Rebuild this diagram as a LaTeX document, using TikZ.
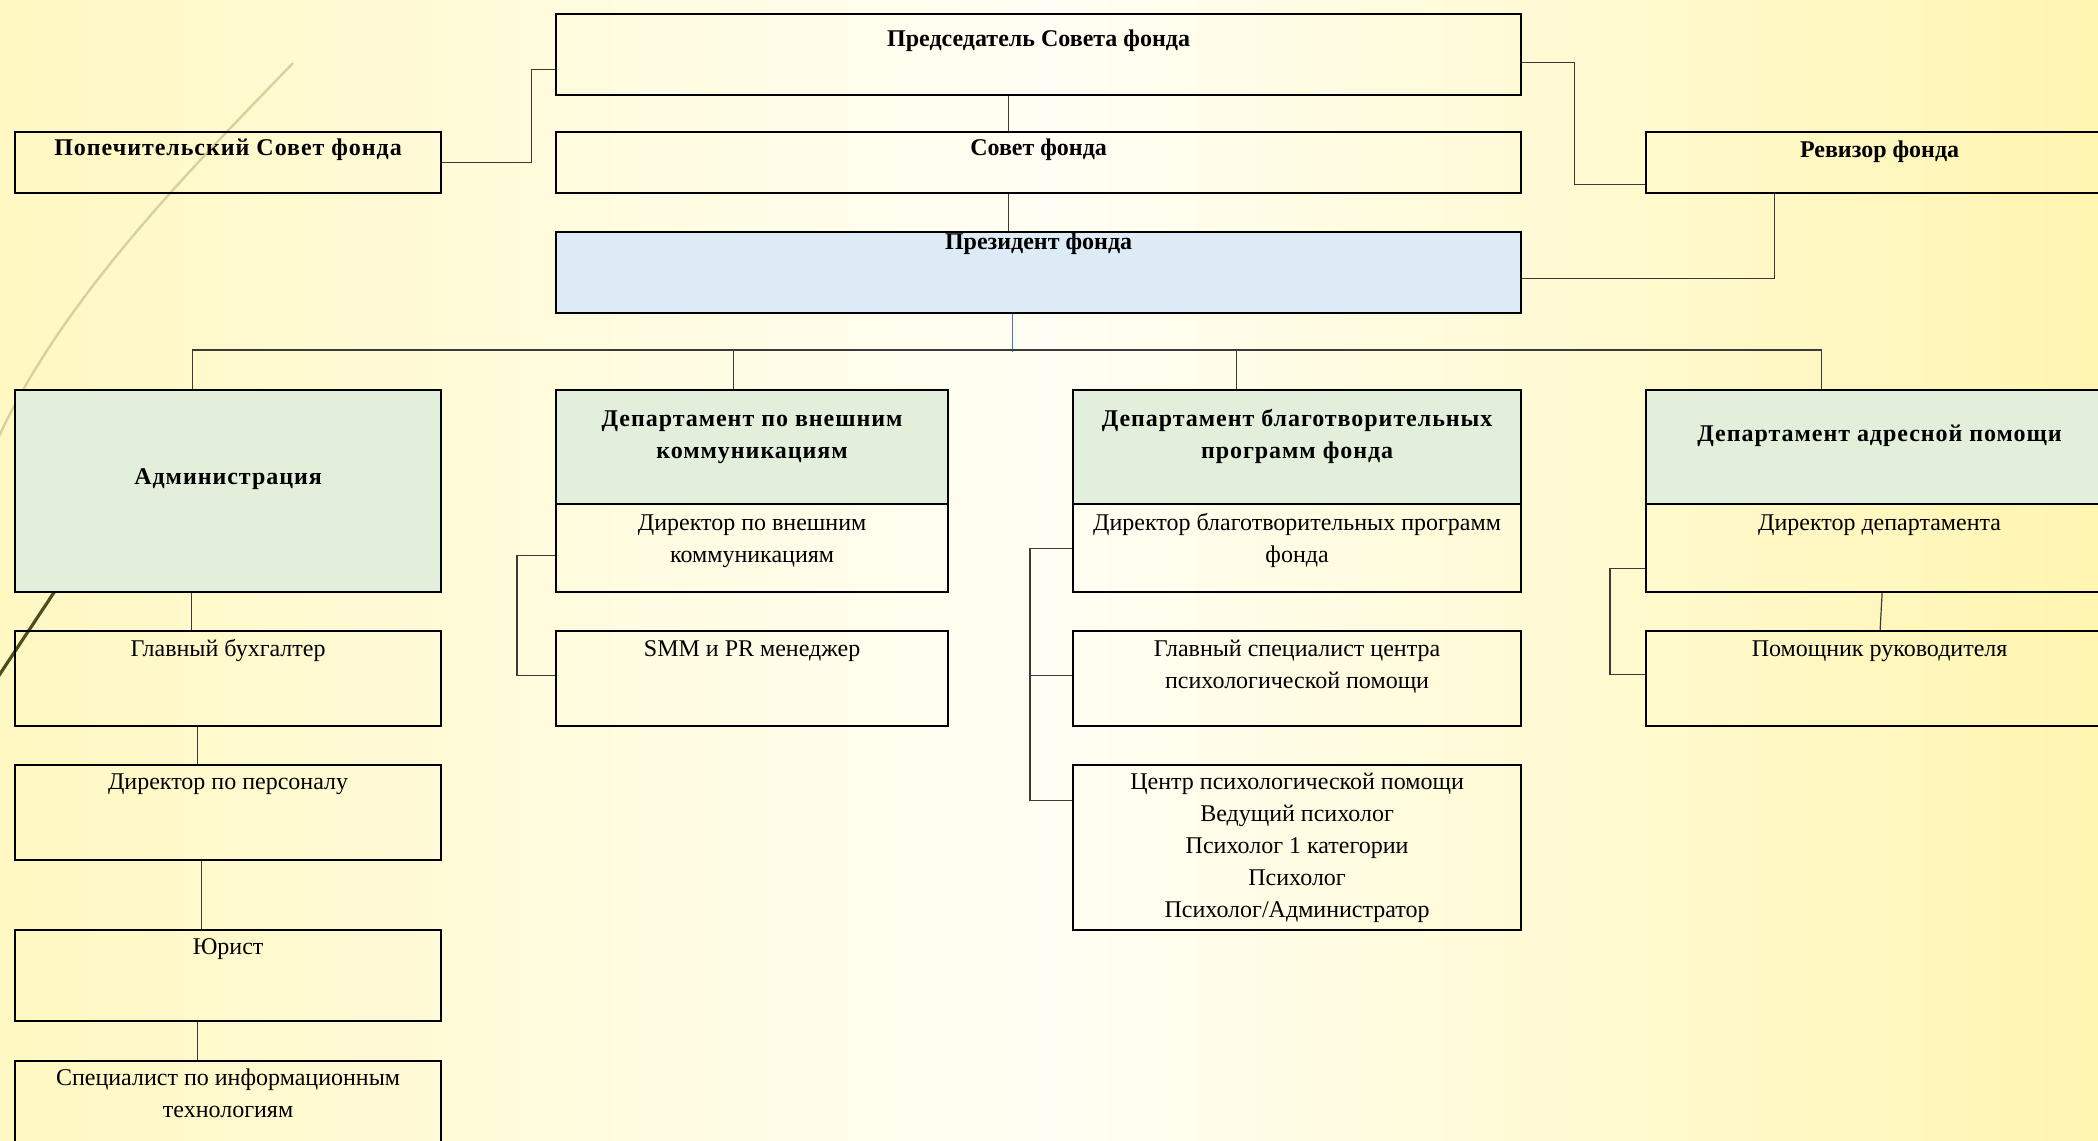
\documentclass[tikz,border=0pt]{standalone}
\usepackage{fontspec}
\setmainfont{Liberation Serif}
\newfontfamily\widefont[LetterSpace=4]{Liberation Serif}

\definecolor{hdrgreen}{HTML}{E2EFDA}
\definecolor{presblue}{HTML}{DDEBF7}
\definecolor{bgyellow}{HTML}{FFF8C2}
\definecolor{bgdeep}{HTML}{FFF5B0}
\definecolor{bgpale}{HTML}{FFFEF4}
\definecolor{linkgray}{HTML}{3A3A3A}
\definecolor{linkblue}{HTML}{4472C4}
\definecolor{arcpale}{HTML}{D6D2A0}
\definecolor{arcdark}{HTML}{4A4F22}

% text sits at the top of a box: width, height, top gap (pt), text
\newcommand{\boxtext}[4]{\parbox[c][#2pt][t]{#1pt}{\centering\vspace*{#3pt}\strut #4\par}}

\tikzset{
  orgbox/.style={draw, line width=1.1pt, inner sep=0pt, anchor=north west},
  deptbox/.style={orgbox, fill=hdrgreen},
  presbox/.style={orgbox, fill=presblue},
  link/.style={draw=linkgray, line width=0.6pt},
}

\begin{document}
\begin{tikzpicture}[x=0.5pt, y=-0.5pt, font=\fontsize{12}{16}\selectfont]
        \useasboundingbox (0,0) rectangle (2098,1140);
        \clip (0,0) rectangle (2098,1140);

        % Background
        \shade[left color=bgyellow, right color=bgdeep, middle color=bgpale] (0,0) rectangle (2098,1140);
        \draw[arcpale, line width=1.2pt] (293,63) .. controls (190,170) and (60,300) .. (-5,445);
        \draw[arcdark, line width=1.6pt] (110,508) -- (-12,692);

        % Nodes
        \node[orgbox] (chair) at (555,13) {\boxtext{482.5}{40.5}{4.8}{\bfseries Председатель Совета фонда}};
        \node[orgbox] (council) at (555,131) {\boxtext{482.5}{30.5}{0.3}{\bfseries Совет фонда}};
        \node[presbox] (president) at (555,231) {\boxtext{482.5}{40.5}{-2.7}{\bfseries Президент фонда}};
        \node[orgbox] (trustees) at (14,131) {\boxtext{213}{30.5}{0.3}{\widefont\bfseries Попечительский Совет фонда}};
        \node[orgbox] (revizor) at (1645,131) {\boxtext{233.5}{30.5}{1.3}{\bfseries Ревизор фонда}};

        \node[deptbox] (admin) at (14,389) {\boxtext{213}{101}{35.8}{\widefont\bfseries Администрация}};
        \node[orgbox] (acct) at (14,630) {\boxtext{213}{47.5}{1.3}{Главный бухгалтер}};
        \node[orgbox] (hr) at (14,764) {\boxtext{213}{47.5}{0.8}{Директор по персоналу}};
        \node[orgbox] (lawyer) at (14,929) {\boxtext{213}{45.5}{0.8}{Юрист}};
        \node[orgbox] (itspec) at (14,1060) {\boxtext{213}{50}{0.8}{Специалист по информационным\\технологиям}};

        \node[deptbox] (dept1hd) at (555,389) {\boxtext{196}{57}{7}{\widefont\bfseries Департамент по внешним\\коммуникациям}};
        \node[orgbox] (dept1dir) at (555,503) {\boxtext{196}{44}{1.8}{Директор по внешним\\коммуникациям}};
        \node[orgbox] (smm) at (555,630) {\boxtext{196}{47.5}{1.3}{SMM и PR менеджер}};

        \node[deptbox] (dept2hd) at (1072,389) {\boxtext{224}{57}{7}{\widefont\bfseries Департамент благотворительных\\программ фонда}};
        \node[orgbox] (dept2dir) at (1072,503) {\boxtext{224}{44}{1.8}{Директор благотворительных программ\\фонда}};
        \node[orgbox] (chief) at (1072,630) {\boxtext{224}{47.5}{1.3}{Главный специалист центра\\психологической помощи}};
        \node[orgbox] (psycenter) at (1072,764) {\boxtext{224}{82.5}{0.8}{Центр психологической помощи\\Ведущий психолог\\Психолог 1 категории\\Психолог\\Психолог/Администратор}};

        \node[deptbox] (dept4hd) at (1645,389) {\boxtext{233.5}{57}{14.3}{\widefont\bfseries Департамент адресной помощи}};
        \node[orgbox] (dept4dir) at (1645,503) {\boxtext{233.5}{44}{1.8}{Директор департамента}};
        \node[orgbox] (helper) at (1645,630) {\boxtext{233.5}{47.5}{1.3}{Помощник руководителя}};

        % Edges
        \draw[link] ([xshift=-15.25pt]chair.south) -- ([xshift=-15.25pt]council.north);
        \draw[link] ([xshift=-15.25pt]council.south) -- ([xshift=-15.25pt]president.north);
        \draw[link] (trustees.east) -- ++(89,0) |- ([yshift=-7.25pt]chair.west);
        \draw[link] ([yshift=-3.75pt]chair.east) -- ++(52,0) |- ([yshift=5pt]revizor.south west);
        \draw[link] ([xshift=-52.75pt]revizor.south) |- ([yshift=-2.75pt]president.east);

        \draw[linkblue, line width=0.5pt] ([xshift=-13.25pt]president.south) -- ++(0,38);
        \draw[link] ([xshift=-18pt]admin.north) -- ++(0,-39) -| ([xshift=-29.25pt]dept4hd.north);
        \foreach \d/\s in {dept1hd/-9.5pt, dept2hd/-30.5pt} {
            \draw[link] ([xshift=\s]\d.north) -- ++(0,-39);
        }

        \foreach \a/\b/\s in {admin/acct/-18.5pt, acct/hr/-15.5pt, hr/lawyer/-13.5pt, lawyer/itspec/-15.5pt} {
            \draw[link] ([xshift=\s]\a.south) -- ([xshift=\s]\b.north);
        }

        \draw[link] ([yshift=-3.5pt]dept1dir.west) -- ++(-38,0) |- ([yshift=1.75pt]smm.west);
        \draw[link] (dept2dir.west) -- ++(-42,0) |- ([yshift=23.75pt]psycenter.west);
        \draw[link] ([yshift=1.75pt]chief.west) -- ++(-42,0);
        \draw[link] ([yshift=-10pt]dept4dir.west) -- ++(-35,0) |- ([yshift=2.25pt]helper.west);
        \draw[link] ([xshift=1.25pt]dept4dir.south) -- ([xshift=0.25pt]helper.north);
\end{tikzpicture}
\end{document}
